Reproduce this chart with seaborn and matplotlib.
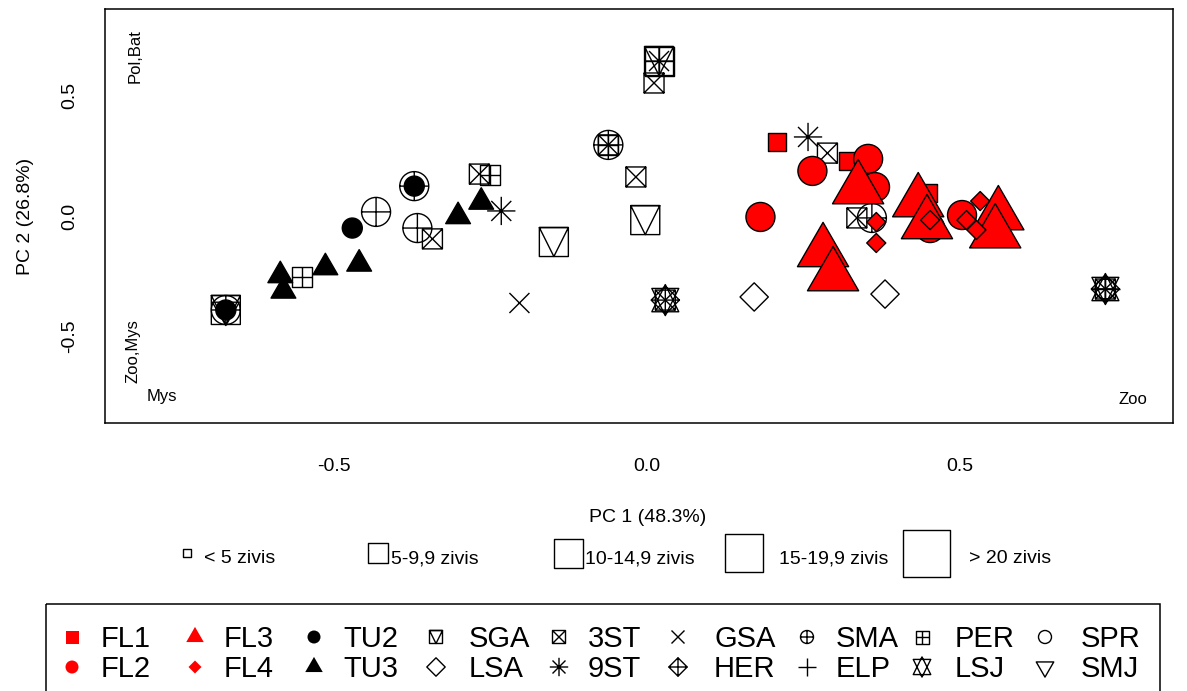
import numpy as np
import pandas as pd
import matplotlib
matplotlib.use("Agg")
import matplotlib.pyplot as plt
from matplotlib.path import Path
from matplotlib.patches import Rectangle
import seaborn as sns

W, H, DPI = 1187, 691, 100

# ---- PCA scores: one entry per sample -------------------------------------
group = ["SGA", "SMA", "SMJ", "PER", "SMA", "SMA", "SMA", "3ST", "3ST", "PER",
         "9ST", "GSA", "SGA", "SMA", "PER", "3ST", "3ST", "SGA", "SGA", "PER",
         "9ST", "3ST", "LSJ", "3ST", "HER", "LSA", "LSA", "9ST", "3ST", "3ST",
         "SMA", "LSJ", "HER", "SMA", "3ST", "SPR", "ELP",
         "TU2", "TU2", "TU2",
         "TU3", "TU3", "TU3", "TU3", "TU3", "TU3",
         "FL1", "FL1", "FL1",
         "FL2", "FL2", "FL2", "FL2", "FL2", "FL2",
         "FL3", "FL3", "FL3", "FL3", "FL3", "FL3", "FL3",
         "FL4", "FL4", "FL4", "FL4", "FL4", "FL4"]
pc1 = [-0.673, -0.673, -0.673, -0.551, -0.433, -0.367, -0.372, -0.343, -0.268, -0.251,
       -0.233, -0.204, -0.149, -0.062, -0.062, -0.062, -0.018, -0.003, 0.019, 0.019,
       0.019, 0.011, 0.029, 0.029, 0.029, 0.171, 0.380, 0.257, 0.288, 0.335,
       0.359, 0.732, 0.732, 0.732, 0.732, 0.732, 0.732,
       -0.673, -0.471, -0.372,
       -0.586, -0.581, -0.514, -0.460, -0.302, -0.265,
       0.208, 0.321, 0.449,
       0.264, 0.353, 0.364, 0.181, 0.452, 0.503,
       0.337, 0.281, 0.297, 0.433, 0.447, 0.561, 0.556,
       0.366, 0.366, 0.452, 0.532, 0.510, 0.526]
pc2 = [-0.390, -0.390, -0.390, -0.253, 0.017, -0.050, 0.124, -0.095, 0.174, 0.170,
       0.021, -0.361, -0.108, 0.295, 0.295, 0.295, 0.162, -0.017, 0.643, 0.643,
       0.643, 0.552, -0.349, -0.349, -0.349, -0.336, -0.324, 0.328, 0.261, -0.008,
       -0.008, -0.303, -0.303, -0.303, -0.303, -0.303, -0.303,
       -0.390, -0.050, 0.124,
       -0.247, -0.311, -0.214, -0.199, -0.002, 0.058,
       0.307, 0.228, 0.095,
       0.187, 0.237, 0.120, -0.004, -0.050, 0.004,
       0.112, -0.149, -0.249, 0.058, -0.033, 0.004, -0.071,
       -0.025, -0.112, -0.017, 0.062, -0.017, -0.058]
# fish-count class: 1 "< 5", 2 "5-9,9", 3 "10-14,9", 4 "15-19,9", 5 "> 20"
n_class = [3, 3, 2, 2, 3, 3, 3, 2, 2, 2,
           2, 2, 3, 3, 2, 2, 2, 3, 3, 3,
           2, 2, 2, 2, 2, 2, 2, 2, 2, 2,
           3, 2, 2, 2, 2, 2, 2,
           2, 2, 2,
           2, 2, 2, 2, 2, 2,
           2, 2, 2,
           3, 3, 3, 3, 3, 3,
           4, 4, 4, 4, 4, 4, 4,
           2, 2, 2, 2, 2, 2]

legend_rows = [["FL1", "FL3", "TU2", "SGA", "3ST", "GSA", "SMA", "PER", "SPR"],
               ["FL2", "FL4", "TU3", "LSA", "9ST", "HER", "ELP", "LSJ", "SMJ"]]
size_labels = ["< 5 zivis", "5-9,9 zivis", "10-14,9 zivis", "15-19,9 zivis", "> 20 zivis"]
size_levels = [1, 2, 3, 4, 5]
var_labels = ["Pol,Bat", "Zoo,Mys", "Mys", "Zoo"]
var_x = [-0.818, -0.821, -0.775, 0.776]
var_y = [0.664, -0.560, -0.747, -0.763]

# ---- R-style plotting symbols built as paths (unit = symbol radius) -------
TRC0 = np.sqrt(4 * np.pi / (3 * np.sqrt(3)))
TRC1 = TRC0 * np.sqrt(3) / 2
TRC2 = TRC0 / 2
SQRC = np.sqrt(np.pi / 4)
DMDC = np.sqrt(np.pi / 2)
SQ2 = np.sqrt(2)


def poly(pts):
    pts = [tuple(p) for p in pts]
    return Path(pts + [pts[0]], [Path.MOVETO] + [Path.LINETO] * (len(pts) - 1) + [Path.CLOSEPOLY])


def seg(a, b):
    return Path([a, b], [Path.MOVETO, Path.LINETO])


def circ(r=1.0):
    c = Path.unit_circle()
    return Path(c.vertices * r, c.codes)


def square(h=1.0):
    return poly([(-h, -h), (h, -h), (h, h), (-h, h)])


def diamond(h):
    return poly([(0, -h), (h, 0), (0, h), (-h, 0)])


def plus(h):
    return [seg((-h, 0), (h, 0)), seg((0, -h), (0, h))]


def cross(h):
    return [seg((-h, -h), (h, h)), seg((-h, h), (h, -h))]


def comp(*parts):
    flat = []
    for p in parts:
        flat.extend(p if isinstance(p, list) else [p])
    return Path.make_compound_path(*flat)


tri_up = poly([(0, TRC0), (TRC1, -TRC2), (-TRC1, -TRC2)])
tri_dn = poly([(0, -TRC0), (TRC1, TRC2), (-TRC1, TRC2)])
yc6 = 0.5 * (TRC2 + TRC0)
star = comp(poly([(0, -TRC0), (TRC1, yc6), (-TRC1, yc6)]),
            poly([(0, TRC0), (TRC1, -yc6), (-TRC1, -yc6)]))
sq_v = comp(square(), poly([(-1, 1), (0, -1), (1, 1)]))

OPEN = dict(fc="none", ec="black")
RED = dict(fc="#ff0000", ec="black")
BLK = dict(fc="black", ec="black")

# symbol, colours and relative scale in the score plot
PLOT_STYLE = {
    "FL1": (square(SQRC), RED, 1.0),
    "FL2": (circ(1.0), RED, 1.0),
    "FL3": (tri_up, RED, 1.0),
    "FL4": (diamond(DMDC), RED, 0.76),
    "TU2": (circ(1.0), BLK, 1.0),
    "TU3": (tri_up, BLK, 0.92),
    "SGA": (sq_v, OPEN, 1.0),
    "3ST": (comp(square(), cross(1)), OPEN, 1.0),
    "GSA": (comp(cross(1)), OPEN, 1.0),
    "SMA": (comp(circ(1.0), plus(1)), OPEN, 1.0),
    "PER": (comp(square(), plus(1)), OPEN, 1.0),
    "SPR": (circ(1.0), OPEN, 1.0),
    "LSA": (diamond(SQ2), OPEN, 1.0),
    "9ST": (comp(cross(1), plus(SQ2)), OPEN, 1.0),
    "HER": (comp(diamond(SQ2), plus(SQ2)), OPEN, 1.0),
    "ELP": (comp(plus(SQ2)), OPEN, 1.0),
    "LSJ": (star, OPEN, 1.0),
    "SMJ": (tri_dn, OPEN, 1.0),
}
# symbols used in the group key
KEY_STYLE = dict(PLOT_STYLE)
KEY_STYLE.update({
    "FL1": (square(1.0), dict(fc="#ff0000", ec="none"), 1.0),
    "FL2": (circ(1.0), dict(fc="#ff0000", ec="none"), 1.0),
    "FL3": (tri_up, dict(fc="#ff0000", ec="none"), 1.0),
    "FL4": (diamond(1.0), dict(fc="#ff0000", ec="none"), 1.0),
    "TU2": (circ(1.0), dict(fc="black", ec="none"), 1.0),
    "TU3": (tri_up, dict(fc="black", ec="none"), 1.0),
})

HALF_PX = {1: 3.8, 2: 10.0, 3: 14.5, 4: 19.0, 5: 23.5}


def area(path, half_px):
    m = np.max(np.abs(path.vertices))
    return (2 * m * half_px * 72 / DPI) ** 2


# ---- figure ----------------------------------------------------------------
sns.set_style("white")
plt.rcParams["font.family"] = ["Liberation Sans", "DejaVu Sans"]
plt.rcParams.update({"text.color": "black", "axes.labelcolor": "black",
                     "xtick.color": "black", "ytick.color": "black",
                     "axes.edgecolor": "black"})

df = pd.DataFrame({"group": group, "pc1": pc1, "pc2": pc2, "n": n_class})

fig = plt.figure(figsize=(W / DPI, H / DPI), dpi=DPI)
L, R, T, B = 105, 1173, 9, 423
ax = fig.add_axes([L / W, (H - B) / H, (R - L) / W, (B - T) / H])

draw_order = ["SGA", "SMA", "SMJ", "PER", "3ST", "9ST", "GSA", "LSJ", "HER",
              "LSA", "SPR", "ELP", "TU2", "TU3", "FL1", "FL2", "FL3", "FL4"]
for z, g in enumerate(draw_order):
    sub = df[df["group"] == g]
    if sub.empty:
        continue
    path, col, k = PLOT_STYLE[g]
    sizes = [area(path, HALF_PX[c] * k) for c in sub["n"]]
    sns.scatterplot(data=sub, x="pc1", y="pc2", marker=path, s=sizes,
                    color="black", facecolor=col["fc"], edgecolor=col["ec"],
                    linewidth=1.0, legend=False, ax=ax, zorder=2 + z * 0.01)

ax.set_xlim(-0.866, 0.840)
ax.set_ylim(-0.859, 0.859)
ax.set_xticks([-0.5, 0.0, 0.5])
ax.set_xticklabels(["-0.5", "0.0", "0.5"], fontsize=14, color="black")
ax.set_yticks([-0.5, 0.0, 0.5])
ax.set_yticklabels(["-0.5", "0.0", "0.5"], fontsize=14, rotation=90, va="center", color="black")
ax.tick_params(axis="x", length=5, width=1, pad=20, color="black", direction="out")
ax.tick_params(axis="y", length=8, width=1, pad=11, color="black", direction="out")
for sp in ax.spines.values():
    sp.set_visible(True)
    sp.set_color("black")
    sp.set_linewidth(1.1)
ax.set_xlabel("")
ax.set_ylabel("")
ax.grid(False)

for lab, vx, vy in zip(var_labels, var_x, var_y):
    rot = 90 if "," in lab else 0
    ax.text(vx, vy, lab, fontsize=12, rotation=rot, ha="center", va="center", color="black")

# overlay in pixel units for the axis titles and keys
lax = fig.add_axes([0, 0, 1, 1])
lax.set_xlim(0, W)
lax.set_ylim(H, 0)
lax.set_axis_off()

lax.text(648, 517, "PC 1 (48.3%)", fontsize=14, ha="center", va="center", color="black")
lax.text(26, 216, "PC 2 (26.8%)", fontsize=14, ha="center", va="center", rotation=90, color="black")

# fish-count key
sq_path = square()
sq_x = [187, 378, 568, 744, 926]
lab_x = [204, 391, 585, 779, 969]
for lev, lab, sx, tx in zip(size_levels, size_labels, sq_x, lab_x):
    lax.scatter([sx], [553], marker=sq_path, s=area(sq_path, HALF_PX[lev]),
                facecolor="none", edgecolor="black", linewidth=1.0)
    lax.text(tx, 563, lab, fontsize=14, ha="left", va="baseline", color="black")

# group key
lax.add_patch(Rectangle((46, 604), 1160 - 46, 200, fill=False, edgecolor="black", linewidth=1.1))
col_mark_x = [72, 195, 314, 436, 559, 678, 807, 922, 1045]
col_text_x = [101, 224, 343, 469, 588, 714, 836, 955, 1081]
row_y = [637, 667]
row_base = [647, 677]
for r, row in enumerate(legend_rows):
    for c, g in enumerate(row):
        path, col, k = KEY_STYLE[g]
        lax.scatter([col_mark_x[c]], [row_y[r]], marker=path, s=area(path, 6.5),
                    facecolor=col["fc"], edgecolor=col["ec"], linewidth=1.0)
        lax.text(col_text_x[c], row_base[r], g, fontsize=21, ha="left", va="baseline", color="black")

fig.savefig("out.png", dpi=DPI)
